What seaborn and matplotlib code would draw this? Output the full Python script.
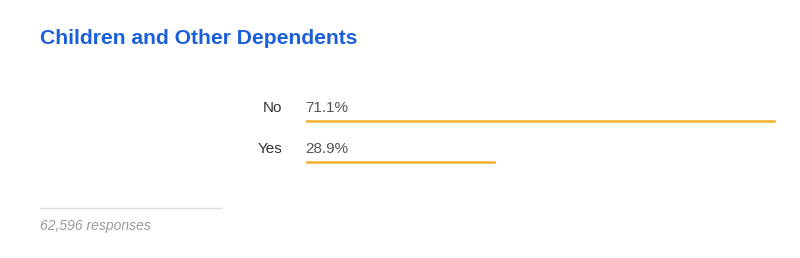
import matplotlib
matplotlib.use("Agg")
import matplotlib.pyplot as plt
import seaborn as sns
import pandas as pd

categories = ["No", "Yes"]
percents = [71.1, 28.9]
pct_labels = ["71.1%", "28.9%"]
title = "Children and Other Dependents"
footer = "62,596 responses"

sns.set_style("white")
plt.rcParams['font.family'] = ['Liberation Sans', 'DejaVu Sans']

W, H = 800, 258
fig = plt.figure(figsize=(8, 2.58), dpi=100)
ax = fig.add_axes([305 / W, (H - 203) / H, 471 / W, 123 / H])

df = pd.DataFrame({"cat": categories, "pct": percents})
sns.barplot(data=df, x="pct", y="cat", orient="h", color="#f2b233",
            width=4 / 41, saturation=1, ax=ax)
ax.set_xlim(0, max(percents))
ax.set_ylim(2, -1)
ax.axis("off")

for i, (c, lab) in enumerate(zip(categories, pct_labels)):
    ax.text(-23 / 471 * max(percents), i - 13 / 41, c, ha="right", va="center",
            fontsize=11, color="#333333", clip_on=False)
    ax.text(0, i - 13 / 41, lab, ha="left", va="center",
            fontsize=11, color="#555555", clip_on=False)

fig.text(40 / W, 1 - 38 / H, title, ha="left", va="center", fontsize=15.2,
         fontweight="bold", color="#1a5fd9")
fig.add_artist(plt.Line2D([40 / W, 222 / W], [1 - 207.5 / H, 1 - 207.5 / H],
                          color="#dddddd", lw=1))
fig.text(40 / W, 1 - 226 / H, footer, ha="left", va="center", fontsize=10,
         style="italic", color="#999999")

fig.savefig("out.png", dpi=100)
